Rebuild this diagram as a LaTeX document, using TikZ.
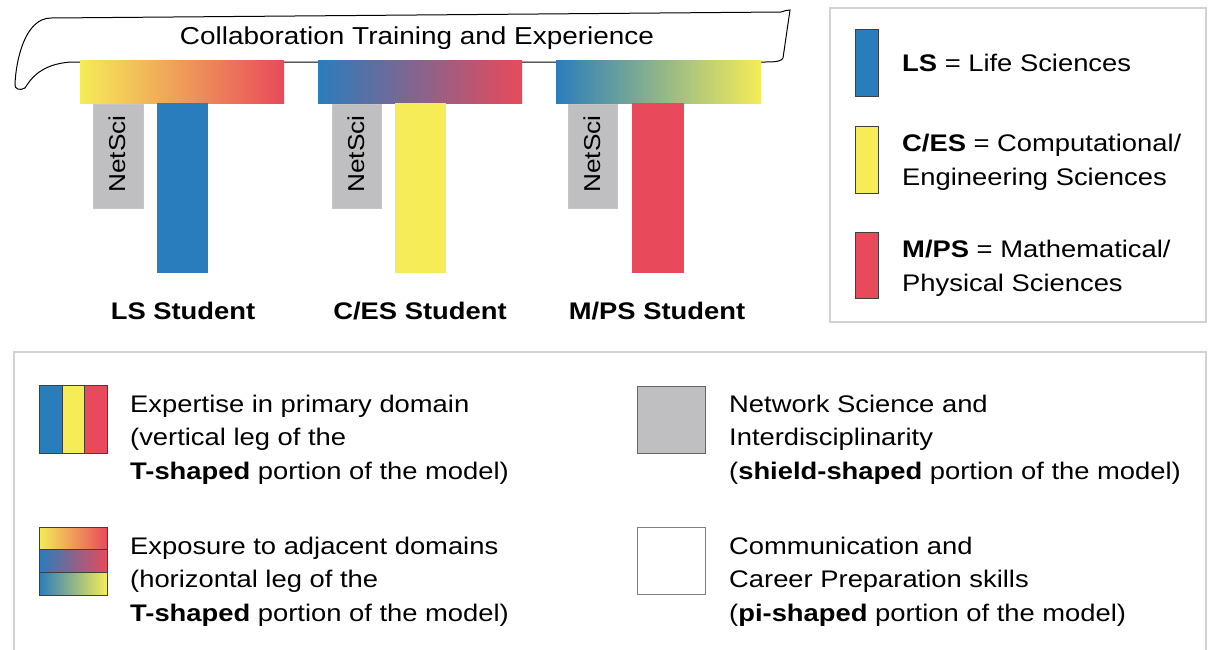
\documentclass[tikz,border=0pt]{standalone}
\usepackage{fontspec}
\setmainfont{Liberation Sans}[FakeStretch=1.14]
\definecolor{lsblue}{HTML}{2A7DBC}
\definecolor{esyellow}{HTML}{F5EC58}
\definecolor{psred}{HTML}{E84A5B}
\definecolor{netgray}{HTML}{BFBFC1}
\definecolor{framegray}{HTML}{D2D2D2}
\tikzset{
  swatch/.style={draw=black!75, line width=0.8pt},
  legtext/.style={anchor=base west, inner sep=0pt, align=left, font=\fontsize{24}{33.5}\selectfont},
  student/.style={inner sep=0pt, font=\fontsize{24}{28}\selectfont\bfseries},
  nslabel/.style={rotate=90, inner sep=0pt, font=\fontsize{23}{26}\selectfont},
  netsci/.style={fill=netgray, draw=netgray!90!white}
}
\begin{document}
\begin{tikzpicture}[x=1pt,y=-1pt]
		\useasboundingbox (0,0) rectangle (1210,649);
		% frames
		\draw[framegray, line width=1.5pt] (830,8) rectangle (1206,322);
		\draw[framegray, line width=1.5pt] (14,660) -- (14,352) -- (1206,352) -- (1206,660);
		% banner
		\draw[fill=white, line width=1pt] (71,62) .. controls (40,64) and (30,80) .. (25,88) .. controls (20,91) and (14,89) .. (15,84) .. controls (16,60) and (25,18) .. (51,18) -- (781,12) .. controls (784,11) and (787,10) .. (790,10) -- (783,58) .. controls (781,61) and (778,62) .. (765,62) -- cycle;
		\node[inner sep=0pt, font=\fontsize{24.5}{28}\selectfont] (banner) at (417,38) {Collaboration Training and Experience};
		% horizontal legs
		\shade[left color=esyellow, right color=psred] (80,60) rectangle (284,103);
		\shade[left color=lsblue, right color=psred] (318,60) rectangle (522,103);
		\shade[left color=lsblue, right color=esyellow] (556,60) rectangle (761,103);
		% shields and vertical legs
		\filldraw[netsci] (93,104) rectangle (143,208);
		\filldraw[netsci] (332,104) rectangle (381,208);
		\filldraw[netsci] (568,104) rectangle (617,208);
		\fill[lsblue] (157,103) rectangle (208,273);
		\fill[esyellow] (395,103) rectangle (446,273);
		\fill[psred] (632,103) rectangle (684,273);
		\node[nslabel] (ns1) at (117,154) {NetSci};
		\node[nslabel] (ns2) at (356,154) {NetSci};
		\node[nslabel] (ns3) at (592,154) {NetSci};
		\node[student] (lsstud) at (183,311) {LS Student};
		\node[student] (esstud) at (420,311) {C/ES Student};
		\node[student] (psstud) at (657,311) {M/PS Student};
		% domain key
		\filldraw[swatch, fill=lsblue] (855,29) rectangle (878,96);
		\filldraw[swatch, fill=esyellow] (855,126) rectangle (878,193);
		\filldraw[swatch, fill=psred] (855,232) rectangle (878,298);
		\node[legtext] (lskey) at (902,71) {\textbf{LS} = Life Sciences};
		\node[legtext] (eskey) at (902,185) {\textbf{C/ES} = Computational/\\Engineering Sciences};
		\node[legtext] (pskey) at (902,291) {\textbf{M/PS} = Mathematical/\\Physical Sciences};
		% model key
		\filldraw[swatch, fill=lsblue] (39,385) rectangle (62,453);
		\filldraw[swatch, fill=esyellow] (62,385) rectangle (84,453);
		\filldraw[swatch, fill=psred] (84,385) rectangle (107,453);
		\shade[left color=esyellow, right color=psred] (39,527) rectangle (107,549);
		\shade[left color=lsblue, right color=psred] (39,549) rectangle (107,572);
		\shade[left color=lsblue, right color=esyellow] (39,572) rectangle (107,595);
		\draw[swatch] (39,527) rectangle (107,595) (39,549) -- (107,549) (39,572) -- (107,572);
		\filldraw[draw=black!60, line width=1pt, fill=netgray] (637,386) rectangle (705,453);
		\filldraw[draw=black!50, line width=1pt, fill=white] (637,527) rectangle (705,594);
		\node[legtext] (tvert) at (130,479) {Expertise in primary domain\\(vertical leg of the\\\textbf{T-shaped} portion of the model)};
		\node[legtext] (thor) at (130,621) {Exposure to adjacent domains\\(horizontal leg of the\\\textbf{T-shaped} portion of the model)};
		\node[legtext] (shield) at (729,479) {Network Science and\\Interdisciplinarity\\(\textbf{shield-shaped} portion of the model)};
		\node[legtext] (pi) at (729,621) {Communication and\\Career Preparation skills\\(\textbf{pi-shaped} portion of the model)};
	\end{tikzpicture}
\end{document}
